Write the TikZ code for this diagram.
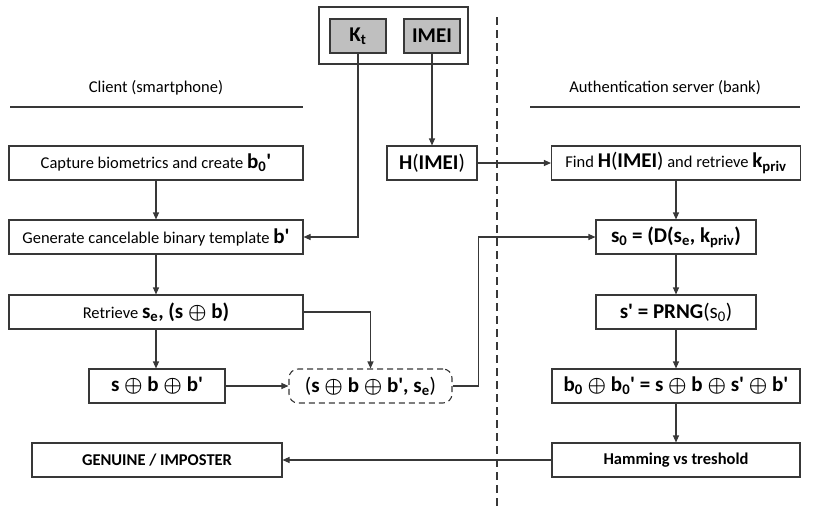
\documentclass[tikz,border=0pt]{standalone}
\usepackage{fontspec}
\setmainfont{Carlito}
\usetikzlibrary{arrows.meta}
\colorlet{lc}{black!78}
\newcommand{\prm}{\textquotesingle}
\newcommand{\xo}{\ensuremath{\boldsymbol{\oplus}}}
\newcommand{\bb}[1]{{\fontsize{21}{24}\selectfont\bfseries #1}}
\newcommand{\bn}[1]{{\fontsize{21}{24}\selectfont #1}}
\usepackage{amsmath}

\begin{document}
\begin{tikzpicture}[x=1pt,y=-1pt,line width=1.1pt,
    blk/.style={draw=lc,rectangle,inner sep=0pt,minimum height=34pt,
      font=\fontsize{16.5}{19}\selectfont},
    key/.style={blk,fill=black!25,minimum width=56pt},
    arr/.style={draw=lc,-{Triangle[length=7pt,width=6pt]}}]
  \useasboundingbox (0,0) rectangle (813,507);

  % device
  \node[blk,minimum width=149pt,minimum height=57pt] (dev) at (393.5,35.5) {};
  \node[key] (kt) at (358,36) {\bb{K\textsubscript{t}}};
  \node[key] (imei) at (432,36) {\bb{IMEI}};

  % headers
  \node[font=\fontsize{16.5}{19}\selectfont] (cl) at (156,88) {Client (smartphone)};
  \node[font=\fontsize{16.5}{19}\selectfont] (srv) at (665,88) {Authentication server (bank)};
  \draw[lc] (10,107) -- (303,107);
  \draw[lc] (530,107) -- (800,107);
  \draw[lc,dash pattern=on 8pt off 5pt] (497,17) -- (497,507);

  % client side
  \node[blk,minimum width=294pt] (cap) at (156,163) {Capture biometrics and create \bb{b\textsubscript{0}\prm}};
  \node[blk,minimum width=294pt] (gen) at (156,237) {Generate cancelable binary template \bb{b\prm}};
  \node[blk,minimum width=294pt] (retr) at (156,312) {Retrieve \bb{s\textsubscript{e}, (s \xo{} b)}};
  \node[blk,minimum width=136pt] (xor) at (157,386) {\bb{s \xo{} b \xo{} b\prm}};
  \node[blk,minimum width=163pt,dashed,dash pattern=on 6pt off 4pt,rounded corners=9pt] (pkt) at (370.5,386) {\bn{(}\bb{s \xo{} b \xo{} b\prm, s\textsubscript{e}}\bn{)}};
  \node[blk,minimum width=250pt] (res) at (157,460) {\textbf{GENUINE / IMPOSTER}};
  \node[blk,minimum width=90pt] (hash) at (432,163) {\bb{H}\bn{(}\bb{IMEI}\bn{)}};

  % server side
  \node[blk,minimum width=249pt] (find) at (676,163) {Find \bb{H}\bn{(}\bb{IMEI}\bn{)} and retrieve \bb{k\textsubscript{priv}}};
  \node[blk,minimum width=160pt] (s0) at (676,237) {\bb{s\textsubscript{0} = (D(s\textsubscript{e}, k\textsubscript{priv})}};
  \node[blk,minimum width=160pt] (prng) at (676,312) {\bb{s\prm{} = PRNG}\bn{(s\textsubscript{0})}};
  \node[blk,minimum width=248pt] (b0) at (676,386) {\bb{b\textsubscript{0} \xo{} b\textsubscript{0}\prm{} = s \xo{} b \xo{} s\prm{} \xo{} b\prm}};
  \node[blk,minimum width=248pt] (ham) at (676,460) {\textbf{Hamming vs treshold}};

  \draw[arr] (kt.south) |- (gen.east);
  \draw[arr] (imei.south) -- (hash.north);
  \draw[arr] (cap) -- (gen);
  \draw[arr] (gen) -- (retr);
  \draw[arr] (retr.south) -- (retr.south |- xor.north);
  \draw[arr] (retr.east) -| (pkt.north);
  \draw[arr] (xor) -- (pkt);
  \draw[arr] (pkt.east) -- ++(26,0) |- (s0.west);
  \draw[arr] (hash) -- (find);
  \draw[arr] (find) -- (s0);
  \draw[arr] (s0) -- (prng);
  \draw[arr] (prng) -- (b0);
  \draw[arr] (b0) -- (ham);
  \draw[arr] (ham) -- (res);
\end{tikzpicture}
\end{document}
